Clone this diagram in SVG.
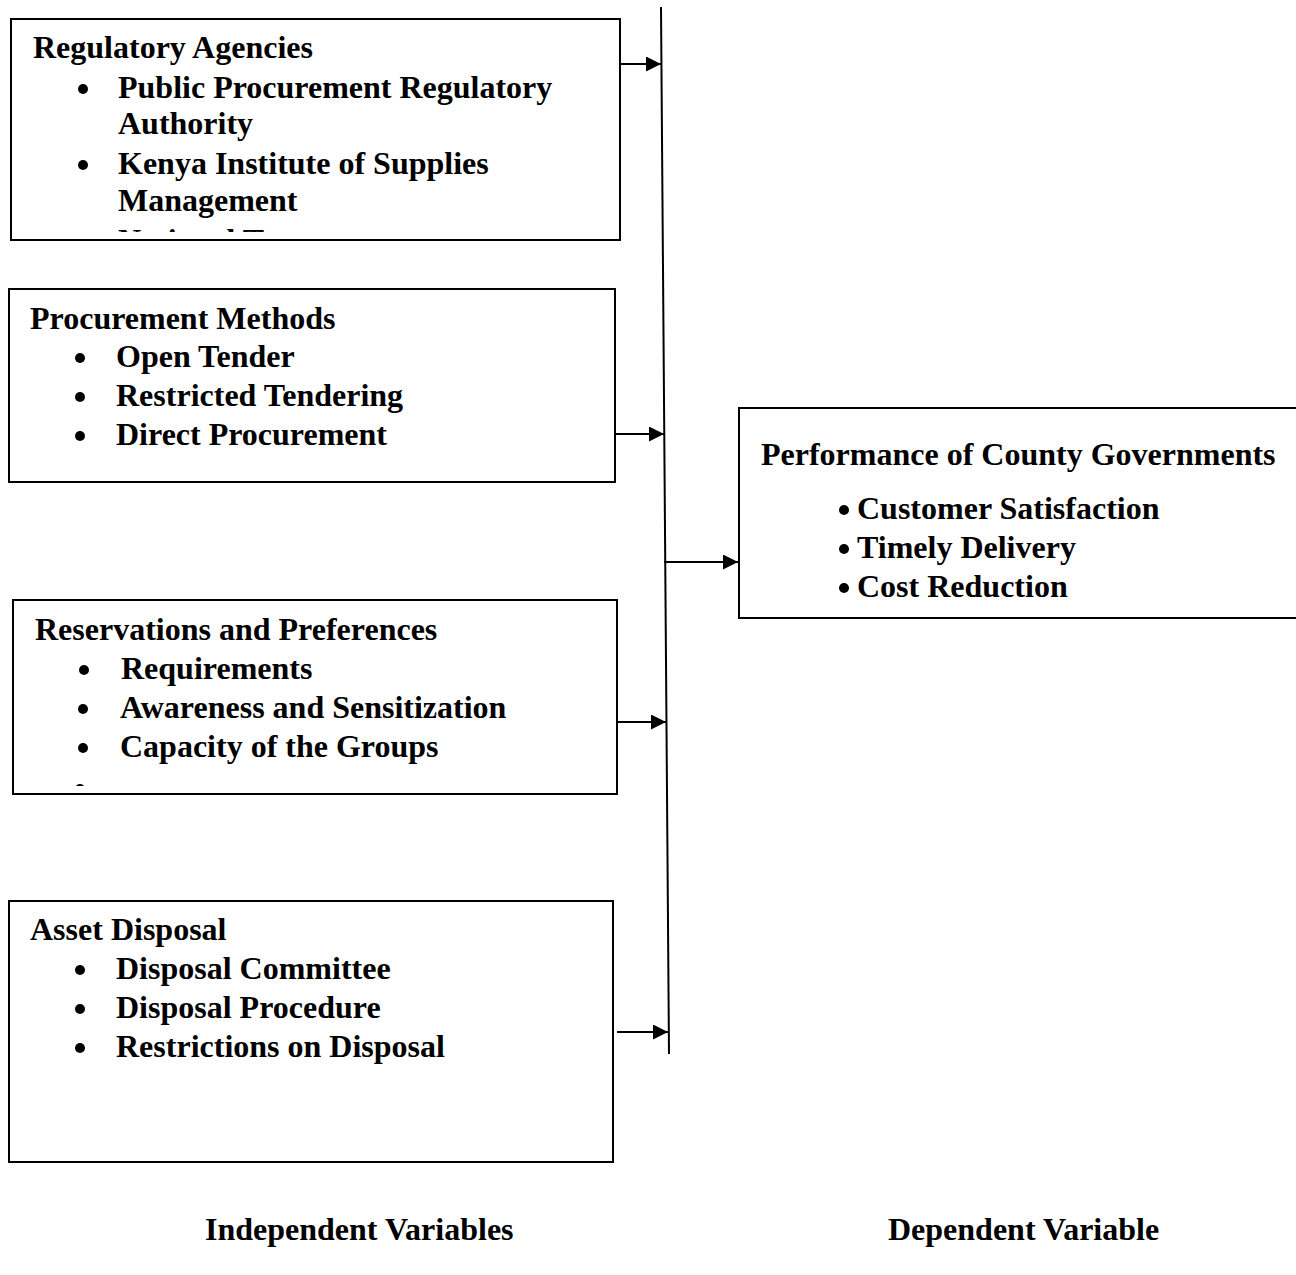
<svg xmlns="http://www.w3.org/2000/svg" width="1296" height="1275" viewBox="0 0 1296 1275">
<style>
.box{fill:#fff;stroke:#000;stroke-width:2}
text{font-family:"Liberation Serif","Times New Roman",serif;font-weight:bold;font-size:32px;fill:#000}
.conn{stroke:#000;stroke-width:2;fill:none}
.b{fill:#000}
</style>
<defs>
<marker id="ah" markerUnits="userSpaceOnUse" markerWidth="16" markerHeight="16" refX="15" refY="7.5" orient="auto">
<path d="M0,0 L15,7.5 L0,15 Z" fill="#000"/>
</marker>
<clipPath id="c1"><rect x="11" y="19" width="609" height="213"/></clipPath>
<clipPath id="c3"><rect x="13" y="600" width="604" height="186"/></clipPath>
</defs>
<rect width="1296" height="1275" fill="#fff"/>
<g id="regulatory">
<rect class="box" x="11" y="19" width="609" height="221"/>
<g clip-path="url(#c1)">
<text x="33" y="58">Regulatory Agencies</text>
<circle class="b" cx="83" cy="89" r="5"/><text x="118" y="98">Public Procurement Regulatory</text>
<text x="118" y="134">Authority</text>
<circle class="b" cx="83" cy="165" r="5"/><text x="118" y="174">Kenya Institute of Supplies</text>
<text x="118" y="211">Management</text>
<circle class="b" cx="83" cy="241" r="5"/><text x="118" y="251">National Treasury</text>
</g>
</g>
<g id="methods">
<rect class="box" x="9" y="289" width="606" height="193"/>
<text x="30" y="329">Procurement Methods</text>
<circle class="b" cx="80" cy="358" r="5"/><text x="116" y="367">Open Tender</text>
<circle class="b" cx="80" cy="397" r="5"/><text x="116" y="406">Restricted Tendering</text>
<circle class="b" cx="80" cy="436" r="5"/><text x="116" y="445">Direct Procurement</text>
</g>
<g id="reservations">
<rect class="box" x="13" y="600" width="604" height="194"/>
<g clip-path="url(#c3)">
<text x="35" y="640">Reservations and Preferences</text>
<circle class="b" cx="84" cy="670" r="5"/><text x="121" y="679">Requirements</text>
<circle class="b" cx="83" cy="709" r="5"/><text x="120" y="718">Awareness and Sensitization</text>
<circle class="b" cx="83" cy="748" r="5"/><text x="120" y="757">Capacity of the Groups</text>
<circle class="b" cx="80" cy="789" r="5"/>
</g>
</g>
<g id="disposal">
<rect class="box" x="9" y="901" width="604" height="261"/>
<text x="30" y="940">Asset Disposal</text>
<circle class="b" cx="80" cy="970" r="5"/><text x="116" y="979">Disposal Committee</text>
<circle class="b" cx="80" cy="1009" r="5"/><text x="116" y="1018">Disposal Procedure</text>
<circle class="b" cx="80" cy="1048" r="5"/><text x="116" y="1057">Restrictions on Disposal</text>
</g>
<g id="performance">
<rect class="box" x="739" y="408" width="560" height="210"/>
<text x="761" y="465">Performance of County Governments</text>
<circle class="b" cx="844" cy="510" r="5"/><text x="857" y="519">Customer Satisfaction</text>
<circle class="b" cx="844" cy="549" r="5"/><text x="857" y="558">Timely Delivery</text>
<circle class="b" cx="844" cy="588" r="5"/><text x="857" y="597">Cost Reduction</text>
</g>
<g id="connectors">
<line class="conn" x1="661" y1="7" x2="669" y2="1054"/>
<line class="conn" x1="620" y1="64" x2="661" y2="64" marker-end="url(#ah)"/>
<line class="conn" x1="615" y1="434" x2="664" y2="434" marker-end="url(#ah)"/>
<line class="conn" x1="617" y1="722" x2="666" y2="722" marker-end="url(#ah)"/>
<line class="conn" x1="617" y1="1032" x2="668" y2="1032" marker-end="url(#ah)"/>
<line class="conn" x1="664" y1="562" x2="738" y2="562" marker-end="url(#ah)"/>
</g>
<g id="labels">
<text x="205" y="1240">Independent Variables</text>
<text x="888" y="1240">Dependent Variable</text>
</g>
</svg>
